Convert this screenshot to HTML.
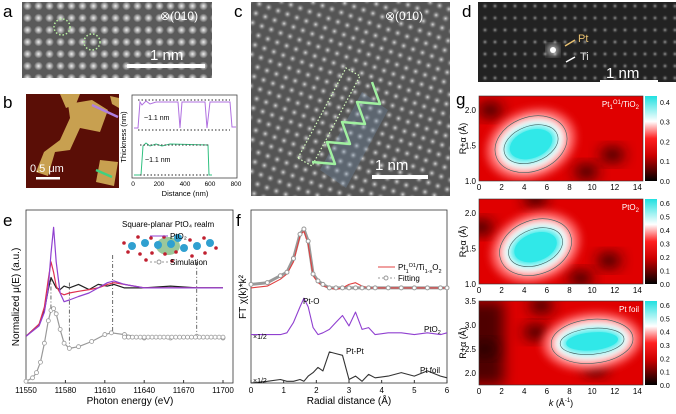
<!DOCTYPE html>
<html><head><meta charset="utf-8">
<style>
body{margin:0;background:#fff;width:676px;height:414px;overflow:hidden;font-family:"Liberation Sans",sans-serif}
svg{position:absolute;left:0;top:0}
text{font-family:"Liberation Sans","DejaVu Sans",sans-serif}
</style></head>
<body>
<svg id="fig" width="676" height="414" viewBox="0 0 676 414">
<defs>
<radialGradient id="dotA"><stop offset="0" stop-color="#eee"/><stop offset="0.6" stop-color="#999"/><stop offset="1" stop-color="#999" stop-opacity="0"/></radialGradient>
<radialGradient id="dotC"><stop offset="0" stop-color="#ddd"/><stop offset="1" stop-color="#555" stop-opacity="0"/></radialGradient>
<radialGradient id="dotD"><stop offset="0" stop-color="#999"/><stop offset="1" stop-color="#222" stop-opacity="0"/></radialGradient>
<pattern id="patA" width="11" height="12" patternUnits="userSpaceOnUse"><rect width="11" height="12" fill="#5a5a5a"/><circle cx="5.5" cy="6" r="4.5" fill="url(#dotA)"/></pattern>
<pattern id="patC" width="10" height="10" patternUnits="userSpaceOnUse" patternTransform="rotate(20)"><rect width="10" height="10" fill="#555"/><circle cx="5" cy="5" r="4.5" fill="url(#dotC)"/></pattern>
<pattern id="patD" width="10" height="12" patternUnits="userSpaceOnUse"><rect width="10" height="12" fill="#222"/><circle cx="5" cy="6" r="3.5" fill="url(#dotD)"/></pattern>
<filter id="blur" x="-50%" y="-50%" width="200%" height="200%"><feGaussianBlur stdDeviation="7"/></filter>
<filter id="blur2" x="-30%" y="-30%" width="160%" height="160%"><feGaussianBlur stdDeviation="4"/></filter>
<linearGradient id="cbar" x1="0" y1="1" x2="0" y2="0"><stop offset="0" stop-color="#000"/><stop offset="0.3" stop-color="#c00"/><stop offset="0.5" stop-color="#ff2020"/><stop offset="0.7" stop-color="#fff"/><stop offset="1" stop-color="#20e0e0"/></linearGradient>
</defs>

<!-- panel a -->
<text x="3" y="17" font-size="17">a</text>
<g>
<rect x="22" y="2" width="190" height="76" fill="url(#patA)"/>
<circle cx="62" cy="27" r="8" fill="none" stroke="#b8f0a0" stroke-width="1.5" stroke-dasharray="1.5 2"/>
<circle cx="92" cy="42" r="8" fill="none" stroke="#b8f0a0" stroke-width="1.5" stroke-dasharray="1.5 2"/>
<text x="160" y="20" font-size="12" fill="#fff">⊗(010)</text>
<text x="150" y="60" font-size="15" fill="#fff">1 nm</text>
<rect x="127" y="64" width="78" height="4" fill="#fff"/>
</g>

<!-- panel b -->
<text x="3" y="108" font-size="17">b</text>
<g>
<rect x="26" y="94" width="93" height="94" fill="#5a0e06"/>
<path d="M60 94 L80 94 L76 104 L66 108Z M68 104 L92 100 L108 110 L100 132 L80 128 L70 150 L55 152 L48 176 L36 172 L44 152 L60 140 L70 118Z M100 160 L118 162 L114 186 L96 182Z M110 96 L119 98 L119 108 L112 104Z" fill="#c8a050"/>
<line x1="92" y1="105" x2="118" y2="117" stroke="#b080e0" stroke-width="2.5"/>
<line x1="96" y1="170" x2="112" y2="177" stroke="#40d080" stroke-width="2.5"/>
<text x="30" y="172" font-size="11" fill="#fff">0.5 μm</text>
<rect x="36" y="177" width="24" height="2.5" fill="#fff"/>
</g>
<g>
<rect x="132" y="95" width="105" height="83" fill="none" stroke="#444" stroke-width="0.8"/>
<path d="M134 128 L138 128 L140 102 L142 105 L146 101 L150 104 L156 102 L178 102 L180 128 L182 102 L205 102 L207 128 L210 102 L230 102 L232 127 L236 127" fill="none" stroke="#b070e0" stroke-width="1"/>
<path d="M134 175 L141 175 L143 146 L146 143 L150 146 L156 144 L162 146 L170 144 L208 145 L209 175 L212 175" fill="none" stroke="#30c080" stroke-width="1"/>
<path d="M138 100 H230 M138 130 H230 M140 145 H210 M140 175 H210" stroke="#555" stroke-width="1.2" stroke-dasharray="1.5 2"/>
<text x="144" y="120" font-size="7">~1.1 nm</text>
<text x="145" y="162" font-size="7">~1.1 nm</text>
<text x="126" y="137" font-size="7.5" transform="rotate(-90 126 137)" text-anchor="middle">Thickness (nm)</text>
<g font-size="6.5" text-anchor="middle"><text x="133" y="186">0</text><text x="159" y="186">200</text><text x="185" y="186">400</text><text x="210" y="186">600</text><text x="236" y="186">800</text></g>
<text x="185" y="196" font-size="7.5" text-anchor="middle">Distance (nm)</text>
</g>

<!-- panel c -->
<text x="234" y="17" font-size="17">c</text>
<g>
<rect x="251" y="2" width="199" height="194" fill="url(#patC)"/>
<polygon points="320,170 362,92 388,110 346,188" fill="#7090b0" opacity="0.3"/>
<polygon points="298,158 346,68 360,76 312,166" fill="none" stroke="#d8ffc0" stroke-width="1.2" stroke-dasharray="1.5 2"/>
<polyline points="312,162 335,164 327,142 350,144 342,122 365,124 357,102 380,104 372,82" fill="none" stroke="#a0f0a0" stroke-width="2.5" stroke-linejoin="round"/>
<text x="385" y="20" font-size="12" fill="#fff">⊗(010)</text>
<text x="375" y="170" font-size="15" fill="#fff">1 nm</text>
<rect x="372" y="175" width="56" height="4" fill="#fff"/>
</g>

<!-- panel d -->
<text x="462" y="17" font-size="17">d</text>
<g>
<rect x="478" y="2" width="198" height="80" fill="url(#patD)"/>
<circle cx="553" cy="50" r="5" fill="#fff" filter="url(#blur2)"/>
<circle cx="553" cy="50" r="3" fill="#fff"/>
<line x1="575" y1="40" x2="565" y2="46" stroke="#e8c070" stroke-width="1.5"/>
<text x="578" y="42" font-size="11" fill="#e8c070">Pt</text>
<line x1="575" y1="57" x2="566" y2="62" stroke="#fff" stroke-width="1.5"/>
<text x="580" y="60" font-size="11" fill="#ddd">Ti</text>
<text x="606" y="78" font-size="15" fill="#fff">1 nm</text>
<rect x="600" y="80" width="58" height="4" fill="#fff"/>
</g>

<!-- panel e -->
<text x="3" y="226" font-size="17">e</text>
<g id="chartE"></g>
<!-- panel f -->
<text x="236" y="226" font-size="17">f</text>
<g id="chartF"></g>
<!-- panel g -->
<text x="456" y="105" font-size="17">g</text>
<g id="chartG"></g>
</svg>

<script>
const NS='http://www.w3.org/2000/svg';
function mk(parent,tag,attrs,txt){const e=document.createElementNS(NS,tag);for(const k in attrs)e.setAttribute(k,attrs[k]);if(txt!==undefined)e.textContent=txt;parent.appendChild(e);return e;}

// ===== Panel e data =====
const eTicks=[11550,11580,11610,11640,11670,11700];
const eX=[11550,11560,11564,11567,11569,11571,11573,11576,11579,11583,11590,11598,11605,11612,11617,11625,11640,11660,11680,11700];
const eBlack=[0.27,0.34,0.42,0.54,0.61,0.58,0.55,0.54,0.56,0.55,0.57,0.54,0.57,0.56,0.57,0.55,0.55,0.56,0.55,0.55];
const eRed=[0.27,0.34,0.44,0.60,0.70,0.64,0.56,0.52,0.51,0.52,0.53,0.54,0.55,0.57,0.58,0.57,0.55,0.55,0.55,0.55];
const ePurple=[0.27,0.33,0.41,0.55,0.75,0.90,0.70,0.52,0.47,0.48,0.50,0.52,0.55,0.58,0.59,0.57,0.55,0.55,0.55,0.55];
const eSimX=[11550,11555,11558,11561,11564,11567,11569,11571,11573,11576,11579,11583,11590,11600,11610,11615,11625,11640,11660,11680,11700];
const eSim=[0.01,0.03,0.06,0.12,0.23,0.36,0.42,0.43,0.40,0.31,0.23,0.20,0.21,0.24,0.28,0.29,0.28,0.26,0.26,0.27,0.26];
const eDrops=[[11569,0.61,0.42],[11583,0.58,0.20],[11616,0.74,0.29],[11680,0.70,0.27]];

(function(){
 const g=document.getElementById('chartE');
 const L=26,R=233,T=210,B=383;
 const x=v=>26+(v-11550)/150*197, y=v=>B-v*173;
 const f=mk(g,'rect',{x:L,y:T,width:R-L,height:B-T,fill:'none',stroke:'#333','stroke-width':0.8});
 
 
 eTicks.forEach(t=>{mk(g,'line',{x1:x(t),x2:x(t),y1:B,y2:B-3,stroke:'#333'});
  const tt=mk(g,'text',{x:x(t),y:B+10,'font-size':8,'text-anchor':'middle'},t);
  
  });
 const xl=mk(g,'text',{x:130,y:404,'font-size':10,'text-anchor':'middle'},'Photon energy (eV)');
 
 
 const yl=mk(g,'text',{x:19,y:297,'font-size':10,'text-anchor':'middle',transform:'rotate(-90 19 297)'},'Normalized μ(E) (a.u.)');
 
 
 eDrops.forEach(d=>{const l=mk(g,'line',{x1:x(d[0]),x2:x(d[0]),y1:y(d[1]),y2:y(d[2]),stroke:'#444','stroke-width':0.8,'stroke-dasharray':'4 2 1 2'});
  
  });
 const line=(xs,ys,col,name)=>{const p=mk(g,'path',{d:xs.map((v,i)=>(i?'L':'M')+x(v).toFixed(1)+' '+y(ys[i]).toFixed(1)).join(' '),fill:'none',stroke:col,'stroke-width':1.2,'stroke-linejoin':'round'});
  
  };
 line(eX,eBlack,'#222','series-pt1-tio2-black');
 line(eX,eRed,'#e03050','series-red');
 line(eX,ePurple,'#9040d0','series-pto2');
 line(eSimX,eSim,'#999','series-simulation');
 eSimX.forEach((v,i)=>{const c=mk(g,'circle',{cx:x(v),cy:y(eSim[i]),r:2,fill:'#fff',stroke:'#999','stroke-width':0.8});
  
  });
 for(let v=11625;v<=11700;v+=3){mk(g,'circle',{cx:x(v),cy:y(0.265),r:2,fill:'#fff',stroke:'#999','stroke-width':0.8});}
 const m=mk(g,'g',{});
 
 
 mk(m,'ellipse',{cx:168,cy:246,rx:12,ry:9,fill:'#70b070',opacity:0.7});
 [[132,246],[145,243],[158,245],[171,244],[184,248],[197,246],[210,243],[178,238]].forEach(p=>mk(m,'circle',{cx:p[0],cy:p[1],r:4,fill:'#30a0d0'}));
 [[124,243],[128,252],[138,237],[140,254],[151,238],[152,253],[164,237],[165,254],[176,252],[190,240],[192,256],[204,238],[205,253],[216,248],[146,260],[172,261]].forEach(p=>mk(m,'circle',{cx:p[0],cy:p[1],r:1.8,fill:'#c02030'}));
 const lt=mk(g,'text',{x:122,y:227,'font-size':8},'Square-planar PtO₄ realm');
 
 
 mk(g,'line',{x1:150,x2:168,y1:236,y2:236,stroke:'#9040d0'});
 const l2=mk(g,'text',{x:170,y:239,'font-size':8},'PtO₂');
 
 
 mk(g,'line',{x1:150,x2:168,y1:262,y2:262,stroke:'#999','stroke-dasharray':'2 2'});
 mk(g,'circle',{cx:159,cy:262,r:2,fill:'#fff',stroke:'#999'});
 const l3=mk(g,'text',{x:170,y:265,'font-size':8},'Simulation');
 
 
})();

// ===== Panel f data =====
const fTicks=[0,1,2,3,4,5,6];
const fX=[0,0.5,0.9,1.1,1.3,1.5,1.62,1.75,1.9,2.05,2.2,2.4,2.6,2.8,3.0,3.2,3.4,3.6,3.8,4.2,4.6,5.0,5.4,5.8,6.0];
const fRed=[0.55,0.56,0.60,0.63,0.70,0.85,0.88,0.80,0.62,0.58,0.56,0.55,0.54,0.55,0.57,0.58,0.56,0.55,0.55,0.55,0.55,0.55,0.55,0.55,0.55];
const fFit=[0.57,0.58,0.62,0.64,0.72,0.86,0.89,0.82,0.63,0.59,0.57,0.55,0.55,0.55,0.55,0.55,0.55,0.55,0.55,0.55,0.55,0.55,0.55,0.55,0.55];
const fPtO2=[0.28,0.28,0.28,0.29,0.35,0.44,0.49,0.44,0.32,0.28,0.29,0.31,0.35,0.39,0.33,0.41,0.31,0.32,0.28,0.29,0.29,0.28,0.29,0.28,0.29];
const fFoil=[0.0,0.01,0.02,0.01,0.01,0.02,0.01,0.04,0.06,0.09,0.07,0.18,0.17,0.16,0.02,0.04,0.01,0.05,0.03,0.04,0.06,0.04,0.07,0.04,0.03];

(function(){
 const g=document.getElementById('chartF');
 const L=251,R=447,T=210,B=383;
 const x=v=>L+v/6*(R-L), y=v=>B-v*173;
 const f=mk(g,'rect',{x:L,y:T,width:R-L,height:B-T,fill:'none',stroke:'#333','stroke-width':0.8});
 
 
 fTicks.forEach(t=>{mk(g,'line',{x1:x(t),x2:x(t),y1:B,y2:B-3,stroke:'#333'});
  const tt=mk(g,'text',{x:x(t),y:B+10,'font-size':8,'text-anchor':'middle'},t);
  
  });
 const xl=mk(g,'text',{x:349,y:404,'font-size':10,'text-anchor':'middle'},'Radial distance (Å)');
 
 
 const yl=mk(g,'text',{x:246,y:297,'font-size':10,'text-anchor':'middle',transform:'rotate(-90 246 297)'},'FT χ(k)*k²');
 
 
 const line=(ys,col,name,w)=>{const p=mk(g,'path',{d:fX.map((v,i)=>(i?'L':'M')+x(v).toFixed(1)+' '+y(ys[i]).toFixed(1)).join(' '),fill:'none',stroke:col,'stroke-width':w||1.1,'stroke-linejoin':'round'});
  
  };
 line(fFit,'#999','series-fitting',3);
 line(fRed,'#e04040','series-pt1-ti1-xo2');
 fX.forEach((v,i)=>{const c=mk(g,'circle',{cx:x(v),cy:y(fFit[i]),r:2,fill:'#fff',stroke:'#999','stroke-width':1});
  
  });
 line(fPtO2,'#9040d0','series-pto2-ft');
 line(fFoil,'#333','series-pt-foil');
 const txt=(tx,ty,s,name,sz)=>{const t=mk(g,'text',{x:tx,y:ty,'font-size':sz||8});t.innerHTML=s;};
 mk(g,'line',{x1:378,x2:395,y1:267,y2:267,stroke:'#e04040'});
 txt(398,270,'Pt<tspan font-size="5.5" dy="3">1</tspan><tspan font-size="5.5" dy="-6">O1</tspan><tspan dy="3">/Ti</tspan><tspan font-size="5.5" dy="3">1-x</tspan><tspan dy="-3">O</tspan><tspan font-size="5.5" dy="3">2</tspan>','legend-entry-pt1','8');
 mk(g,'line',{x1:378,x2:395,y1:278,y2:278,stroke:'#999','stroke-dasharray':'2 2'});
 mk(g,'circle',{cx:386,cy:278,r:2,fill:'#fff',stroke:'#999'});
 txt(398,281,'Fitting','legend-entry-fitting');
 txt(303,304,'Pt-O','peak-label-pt-o');
 txt(424,332,'PtO<tspan font-size="5.5" dy="2">2</tspan>','label-pto2');
 txt(253,339,'×1/2','scale-label-pto2',7);
 txt(346,354,'Pt-Pt','peak-label-pt-pt');
 txt(420,373,'Pt foil','label-pt-foil');
 txt(253,383,'×1/2','scale-label-foil',7);
})();

// ===== Panel g data =====
const gKTicks=[0,2,4,6,8,10,12,14];
const gYTicks1=[1.0,1.5,2.0];
const gYTicks3=[2.0,2.5,3.0,3.5];
const gTitles=['Pt<tspan font-size="6" dy="2">1</tspan><tspan font-size="6" dy="-5">O1</tspan><tspan dy="3">/TiO</tspan><tspan font-size="6" dy="2">2</tspan>','PtO<tspan font-size="6" dy="2">2</tspan>','Pt foil'];
const gBlobK=[4.6,5.0,10.0];
const gBlobR=[1.52,1.52,2.66];
const gCbarMax=[0.4,0.6,0.6];
const gDark=[[[1.0,2.0],[11.8,1.37],[9.5,1.13]],[[0.2,1.8],[11.5,1.33],[9.0,1.08],[5,2.2]],[[0.5,2.5],[5.0,2.85],[10.3,2.1],[5.5,3.4]]];

(function(){
 const g=document.getElementById('chartG');
 const panels=[{T:96,B:181,rmin:1.0,rmax:2.2,ticks:gYTicks1},{T:199,B:284,rmin:1.0,rmax:2.2,ticks:gYTicks1},{T:301,B:385,rmin:1.75,rmax:3.5,ticks:gYTicks3}];
 const L=479,R=643;
 panels.forEach((p,i)=>{
  const x=k=>L+k/14.5*(R-L), y=r=>p.B-(r-p.rmin)/(p.rmax-p.rmin)*(p.B-p.T);
  const grp=mk(g,'g',{});
  
  
  const cid='clip'+i;
  const cp=mk(grp,'clipPath',{id:cid});mk(cp,'rect',{x:L,y:p.T,width:R-L,height:p.B-p.T});
  const inner=mk(grp,'g',{'clip-path':'url(#'+cid+')'});
  mk(inner,'rect',{x:L,y:p.T,width:R-L,height:p.B-p.T,fill:'#e00000'});
  if(i==2){mk(inner,'rect',{x:L-15,y:p.T,width:40,height:p.B-p.T,fill:'#500000',filter:'url(#blur)'});}
  gDark[i].forEach(d=>{const e=mk(inner,'ellipse',{cx:x(d[0]),cy:y(d[1]),rx:12,ry:7,fill:'#200000',filter:'url(#blur)'});
   
   });
  const cx=x(gBlobK[i]), cy=y(gBlobR[i]);
  const rx=i==2?38:34, ry=i==2?19:24, rot=i==2?-5:-20;
  const tr='rotate('+rot+' '+cx+' '+cy+')';
  mk(inner,'ellipse',{cx:cx,cy:cy,rx:rx+12,ry:ry+10,fill:'#ff6060',transform:tr,filter:'url(#blur2)'});
  mk(inner,'ellipse',{cx:cx,cy:cy,rx:rx+2,ry:ry+2,fill:'#fff',transform:tr,filter:'url(#blur2)'});
  const blob=mk(inner,'ellipse',{cx:cx,cy:cy,rx:rx-8,ry:ry-7,fill:'#30e8e8',transform:tr,filter:'url(#blur2)'});
  
  
  mk(inner,'ellipse',{cx:cx,cy:cy,rx:rx-12,ry:ry-10,fill:'#30e8e8',transform:tr});
  [[rx+3,ry+3],[rx-6,ry-6]].forEach(s=>mk(inner,'ellipse',{cx:cx,cy:cy,rx:s[0],ry:s[1],fill:'none',stroke:'#406060','stroke-width':0.6,transform:tr}));
  mk(grp,'rect',{x:L,y:p.T,width:R-L,height:p.B-p.T,fill:'none',stroke:'#333','stroke-width':0.6});
  const t=mk(grp,'text',{x:R-4,y:p.T+11,'font-size':8,fill:'#fff','text-anchor':'end'});t.innerHTML=gTitles[i];
  
  
  p.ticks.forEach(r=>{const tt=mk(grp,'text',{x:L-3,y:y(r)+3,'font-size':8,'text-anchor':'end'},r.toFixed(1));
   
   });
  gKTicks.forEach(k=>{const tt=mk(grp,'text',{x:x(k),y:p.B+9,'font-size':8,'text-anchor':'middle'},k);
   
   });
  const yl=mk(grp,'text',{x:466,y:(p.T+p.B)/2,'font-size':9,'text-anchor':'middle',transform:'rotate(-90 466 '+((p.T+p.B)/2)+')'},'R+α (Å)');
  
  
  const cb=mk(grp,'rect',{x:645,y:p.T,width:12,height:p.B-p.T,fill:'url(#cbar)'});
  
  
  const mx=gCbarMax[i], n=Math.round(mx/0.1);
  for(let j=0;j<=n;j++){const v=j*0.1;const yy=p.B-(v/(mx+0.03))*(p.B-p.T);
   const ct=mk(grp,'text',{x:660,y:yy+3,'font-size':7},v.toFixed(1));
   
   }
 });
 const xl=mk(g,'text',{x:561,y:406,'font-size':9,'text-anchor':'middle'});
 xl.innerHTML='<tspan font-style="italic">k</tspan> (Å<tspan font-size="6" dy="-4">-1</tspan><tspan dy="4">)</tspan>';
 
 
})();
</script>
</body></html>
